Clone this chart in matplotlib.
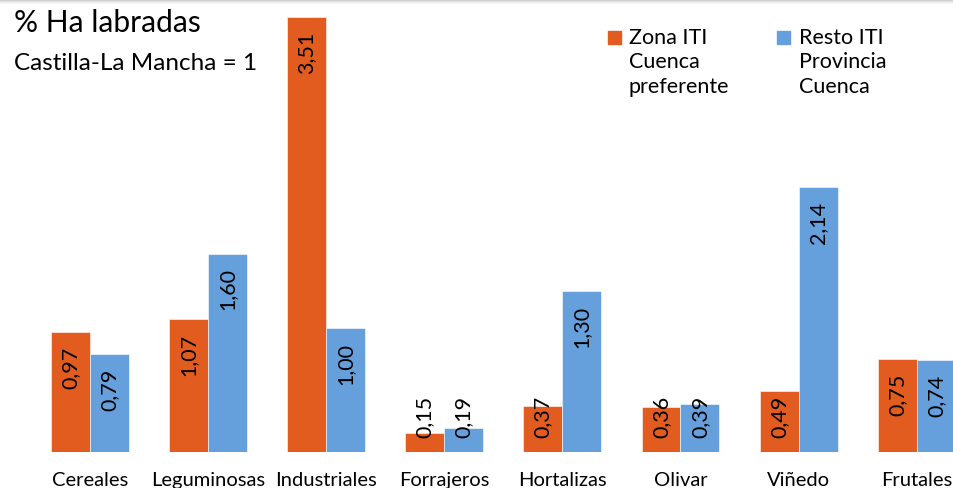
import numpy as np
import matplotlib.pyplot as plt
from matplotlib.patches import Rectangle

categorias = ['Cereales', 'Leguminosas', 'Industriales', 'Forrajeros',
              'Hortalizas', 'Olivar', 'Viñedo', 'Frutales']
zona_iti = [0.97, 1.07, 3.51, 0.15, 0.37, 0.36, 0.49, 0.75]
resto_iti = [0.79, 1.60, 1.00, 0.19, 1.30, 0.39, 2.14, 0.74]
series = ['Zona ITI\nCuenca\npreferente', 'Resto ITI\nProvincia\nCuenca']
colores = ['#E25B1F', '#65A0DC']

plt.rcParams['font.family'] = ['Lato', 'DejaVu Sans']

fig = plt.figure(figsize=(9.54, 4.89), dpi=100)
ax = fig.add_axes([0, 36 / 489, 1, 453 / 489])

x = np.arange(len(categorias))
w = 0.33
for k, (vals, col) in enumerate(zip([zona_iti, resto_iti], colores)):
    pos = x + (k - 0.5) * w
    ax.bar(pos, vals, width=w, color=col, edgecolor='white', linewidth=0.4)
    # etiquetas giradas: dentro del extremo, o apoyadas en la base si no caben
    for p, v in zip(pos, vals):
        txt = '{:.2f}'.format(v).replace('.', ',')
        if v >= 0.58:
            ax.annotate(txt, (p, v), xytext=(0, -10), textcoords='offset points',
                        rotation=90, ha='center', va='top', fontsize=15.5)
        else:
            ax.annotate(txt, (p, 0), xytext=(0, 11), textcoords='offset points',
                        rotation=90, ha='center', va='bottom', fontsize=15.5)

ax.set_xlim(-0.762, 7.316)
ax.set_ylim(0, 3.653)
ax.set_xticks(x)
ax.set_xticklabels(categorias, fontsize=14.5)
ax.tick_params(axis='x', length=0, pad=14)
ax.set_yticks([])
for s in ax.spines.values():
    s.set_visible(False)

# titulos
fig.text(14 / 954, 1 - 23 / 489, '% Ha labradas', fontsize=21.5, va='center', ha='left')
fig.text(14 / 954, 1 - 64 / 489, 'Castilla-La Mancha = 1', fontsize=17.5, va='center', ha='left')

# leyenda manual (el cuadro alineado con la primera linea)
for lx, tx, lab, col in [(608, 629, series[0], colores[0]), (777, 799, series[1], colores[1])]:
    fig.patches.append(Rectangle((lx / 954, 1 - 45 / 489), 13 / 954, 13 / 489,
                                 transform=fig.transFigure, color=col))
    fig.text(tx / 954, 1 - 28 / 489, lab, fontsize=15.5, va='top', ha='left',
             linespacing=1.27)

# sombra gris arriba
for i, g in enumerate(['#d0d0d0', '#e2e2e2', '#efefef', '#f7f7f7']):
    fig.add_artist(plt.Line2D([0, 1], [1 - (i + 0.5) / 489] * 2, color=g, lw=0.8,
                              transform=fig.transFigure))

fig.savefig('out.png', dpi=100)
